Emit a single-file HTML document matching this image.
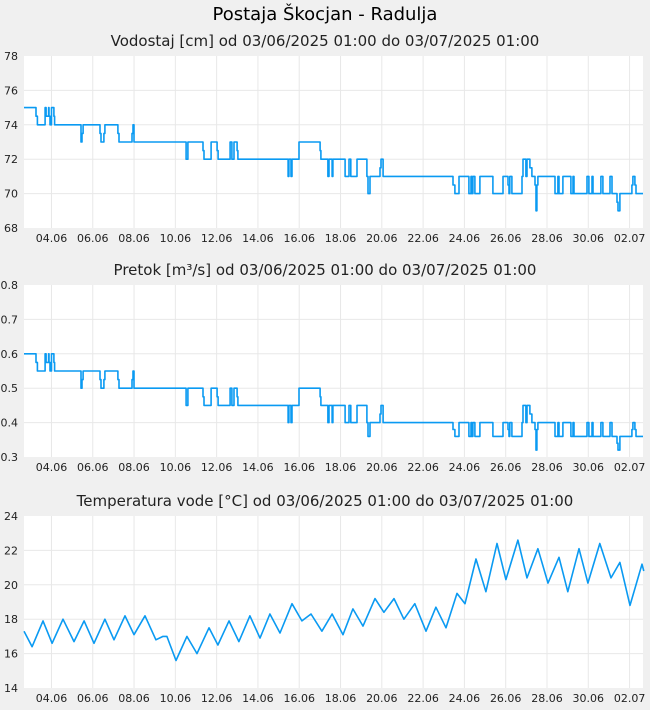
<!DOCTYPE html>
<html><head><meta charset="utf-8">
<style>
html,body{margin:0;padding:0;background:#f0f0f0;}
svg{display:block;font-family:"DejaVu Sans","Liberation Sans",sans-serif;}
</style></head>
<body>
<svg id="c" width="650" height="710" xmlns="http://www.w3.org/2000/svg">
<rect width="650" height="710" fill="#f0f0f0"/>
<text x="325" y="20" text-anchor="middle" font-size="18" fill="#000">Postaja Škocjan - Radulja</text>
</svg>
<script>
// time: days since 01.06 00:00
const xTicks = [3,5,7,9,11,13,15,17,19,21,23,25,27,29,31];
const xTickLabels = ["04.06","06.06","08.06","10.06","12.06","14.06","16.06","18.06","20.06","22.06","24.06","26.06","28.06","30.06","02.07"];
const levelTicks = [68,70,72,74,76,78];
const flowTicks = [0.3,0.4,0.5,0.6,0.7,0.8];
const flowTickLabels = ["0.3","0.4","0.5","0.6","0.7","0.8"];
const tempTicks = [14,16,18,20,22,24];

const stepT = [1.67,2.25,2.32,2.69,2.74,2.86,2.88,2.93,3.00,3.12,3.15,4.43,4.48,4.53,5.35,5.40,5.54,5.59,6.22,6.27,6.90,6.95,7.00,9.52,9.61,10.34,10.39,10.73,11.02,11.07,11.65,11.74,11.84,11.99,12.03,14.46,14.50,14.60,14.65,14.99,16.01,16.05,16.39,16.44,16.59,16.63,17.22,17.41,17.50,17.80,18.28,18.33,18.43,18.91,18.96,19.06,22.45,22.54,22.74,23.22,23.32,23.37,23.41,23.51,23.75,24.38,24.87,25.11,25.16,25.20,25.30,25.79,25.84,25.98,26.03,26.17,26.27,26.42,26.47,26.51,26.56,27.39,27.53,27.58,27.77,28.16,28.26,28.31,28.94,29.03,29.18,29.23,29.61,29.71,30.05,30.15,30.39,30.44,30.53,31.11,31.16,31.26,31.31,31.65];
const levelV = [75,74.5,74,75,74.5,75,74.5,74,75,74.5,74,73,73.5,74,73.5,73,73.5,74,73.5,73,73.5,74,73,72,73,72.5,72,73,72.5,72,73,72,73,72.5,72,71,72,71,72,73,72.5,72,71,72,71,72,71,72,71,72,71,70,71,71.5,72,71,70.5,70,71,70,71,70,71,70,71,70,71,70.5,70,71,70,71,72,71,72,71.5,71,70.5,69,70.5,71,70,71,70,71,70,71,70,71,70,71,70,71,70,71,70,69.5,69,70,70.5,71,70.5,70,70];
const flowV = [0.6,0.575,0.55,0.6,0.575,0.6,0.575,0.55,0.6,0.575,0.55,0.5,0.525,0.55,0.525,0.5,0.525,0.55,0.525,0.5,0.525,0.55,0.5,0.45,0.5,0.475,0.45,0.5,0.475,0.45,0.5,0.45,0.5,0.475,0.45,0.4,0.45,0.4,0.45,0.5,0.475,0.45,0.4,0.45,0.4,0.45,0.4,0.45,0.4,0.45,0.4,0.36,0.4,0.425,0.45,0.4,0.38,0.36,0.4,0.36,0.4,0.36,0.4,0.36,0.4,0.36,0.4,0.38,0.36,0.4,0.36,0.4,0.45,0.4,0.45,0.425,0.4,0.38,0.32,0.38,0.4,0.36,0.4,0.36,0.4,0.36,0.4,0.36,0.4,0.36,0.4,0.36,0.4,0.36,0.4,0.36,0.34,0.32,0.36,0.38,0.4,0.38,0.36,0.36];

const tempT = [1.67,2.06,2.59,3.03,3.56,4.09,4.58,5.06,5.59,6.03,6.56,7.00,7.53,8.06,8.40,8.59,9.03,9.56,10.05,10.63,11.06,11.60,12.08,12.61,13.10,13.58,14.07,14.65,15.13,15.57,16.10,16.59,17.12,17.60,18.09,18.67,19.10,19.59,20.07,20.60,21.14,21.62,22.11,22.64,23.03,23.56,24.04,24.58,25.01,25.59,26.03,26.56,27.05,27.58,28.01,28.55,28.98,29.56,30.10,30.53,31.02,31.60,31.69];
const tempV = [17.3,16.4,17.9,16.6,18.0,16.7,17.9,16.6,18.0,16.8,18.2,17.1,18.2,16.8,17.0,17.0,15.6,17.0,16.0,17.5,16.5,17.9,16.7,18.2,16.9,18.3,17.2,18.9,17.9,18.3,17.3,18.3,17.1,18.6,17.6,19.2,18.4,19.2,18.0,18.9,17.3,18.7,17.5,19.5,18.9,21.5,19.6,22.4,20.3,22.6,20.4,22.1,20.1,21.6,19.6,22.1,20.1,22.4,20.4,21.3,18.8,21.2,20.8];

const NS="http://www.w3.org/2000/svg";
const svg=document.getElementById('c');
const X0=24,X1=643,T0=1.67,T1=31.65;
const xs=t=>X0+(t-T0)/(T1-T0)*(X1-X0);
function mk(tag,attrs,parent){const e=document.createElementNS(NS,tag);for(const k in attrs)e.setAttribute(k,attrs[k]);(parent||svg).appendChild(e);return e;}

function panel(key,title,top,bottom,ymin,ymax,ticks,tickLabels,T,V,step){
  const g=mk('g',{});
  
  
  const ys=v=>bottom-(v-ymin)/(ymax-ymin)*(bottom-top);
  const tt=mk('text',{x:325,y:top-10,'text-anchor':'middle','font-size':15,fill:'#222'},g);
  tt.textContent=title;
  
  
  const bg=mk('rect',{x:X0,y:top,width:X1-X0,height:bottom-top,fill:'#fff'},g);
  
  
  ticks.forEach((v,i)=>{
    const y=ys(v);
    if(i>0&&i<ticks.length-1){const gl=mk('line',{x1:X0,x2:X1,y1:y,y2:y,stroke:'#e8e8e8','stroke-width':1},g);
      
      }
    const lb=mk('text',{x:18,y:y+4,'text-anchor':'end','font-size':11,fill:'#222'},g);
    lb.textContent=tickLabels?tickLabels[i]:String(v);
    
    
  });
  xTicks.forEach((t,i)=>{
    const x=xs(t);
    const gl=mk('line',{x1:x,x2:x,y1:top,y2:bottom,stroke:'#e8e8e8','stroke-width':1},g);
    
    
    const lb=mk('text',{x:x,y:bottom+14,'text-anchor':'middle','font-size':11,fill:'#222'},g);
    lb.textContent=xTickLabels[i];
    
    
  });
  let d='';
  for(let i=0;i<T.length;i++){
    const x=xs(T[i]).toFixed(1),y=ys(V[i]).toFixed(1);
    if(i===0)d+='M'+x+' '+y;
    else if(step)d+=' H'+x+' V'+y;
    else d+=' L'+x+' '+y;
  }
  if(step)d+=' H'+X1;
  const p=mk('path',{d:d,fill:'none',stroke:'#0a9af2','stroke-width':1.6,'stroke-linejoin':'round'},g);
  
  
}
panel('level','Vodostaj [cm] od 03/06/2025 01:00 do 03/07/2025 01:00',56,228,68,78,levelTicks,null,stepT,levelV,true);
panel('flow','Pretok [m³/s] od 03/06/2025 01:00 do 03/07/2025 01:00',285,457,0.3,0.8,flowTicks,flowTickLabels,stepT,flowV,true);
panel('temperature','Temperatura vode [°C] od 03/06/2025 01:00 do 03/07/2025 01:00',516,688,14,24,tempTicks,null,tempT,tempV,false);
</script>
</body></html>
